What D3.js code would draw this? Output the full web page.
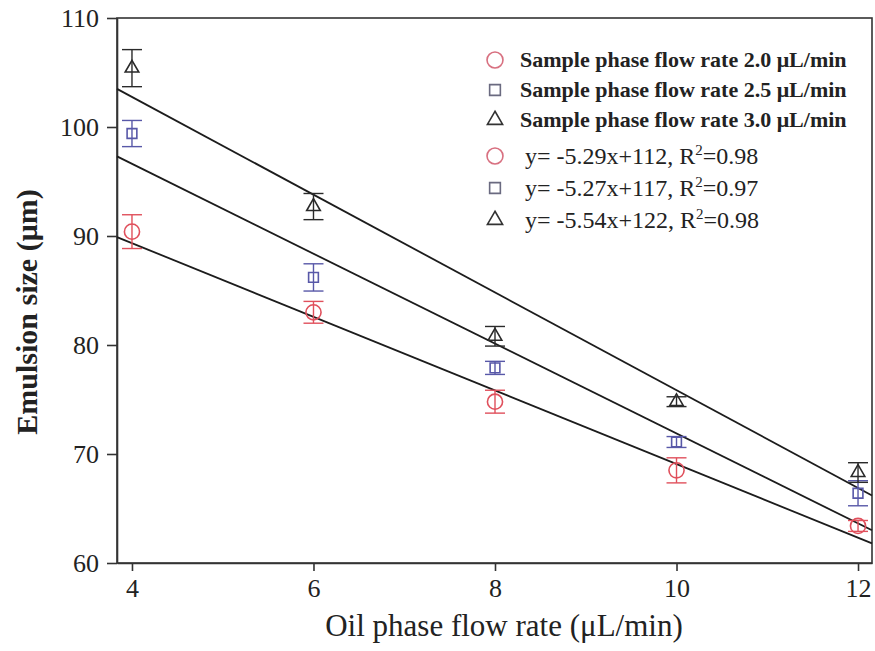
<!DOCTYPE html>
<html lang="en">
<head>
<meta charset="UTF-8">
<title>Emulsion size vs oil phase flow rate</title>
<script src="https://cdn.jsdelivr.net/npm/d3@7"></script>
<style>
  body { margin: 0; background: #fff; }
  svg text { font-family: "Liberation Serif", "Times New Roman", serif; fill: #222; }
  .axis path, .axis line { stroke: #333; stroke-width: 1.6; }
  .frame { fill: none; stroke: #333; stroke-width: 1.6; }
  .fit { fill: none; stroke: #1c1c1c; stroke-width: 1.8; }
  .bar { stroke-width: 1.4; }
</style>
</head>
<body>
<div id="chart"></div>
<script>

// data
var oilRates = [4, 6, 8, 10, 12];
var xTicks = [4, 6, 8, 10, 12];
var yTicks = [60, 70, 80, 90, 100, 110];

var size20 = [90.4, 83.0, 74.8, 68.5, 63.4];
var size25 = [99.4, 86.2, 77.9, 71.1, 66.4];
var size30 = [105.4, 92.7, 80.8, 74.8, 68.3];

var err20 = [1.55, 1.0, 1.05, 1.15, 0.5];
var err25 = [1.2, 1.25, 0.6, 0.5, 1.15];
var err30 = [1.7, 1.2, 0.9, 0.45, 0.9];

// fitted lines: value at left and right edge of the plot
var fitLeft = [89.9, 97.3, 103.5];
var fitRight = [61.8, 63.0, 66.2];

var legendNames = [
  "Sample phase flow rate 2.0 \u03bcL/min",
  "Sample phase flow rate 2.5 \u03bcL/min",
  "Sample phase flow rate 3.0 \u03bcL/min"
];
var equations = ["y= -5.29x+112, R", "y= -5.27x+117, R", "y= -5.54x+122, R"];
var r2 = ["=0.98", "=0.97", "=0.98"];

// look
var colors = ["#e0505c", "#5858a8", "#2a2a2a"];
var legendColors = ["#d87080", "#6a6a80", "#333"];
var symbols = [d3.symbolCircle, d3.symbolSquare, d3.symbolTriangle];
var symSizes = [180, 95, 80];

var width = 875, height = 651;
var plotL = 117, plotR = 872, plotT = 18, plotB = 563;

var svg = d3.select('#chart').append('svg')
    .attr('width', width)
    .attr('height', height);

var x = d3.scaleLinear().domain([3.835, 12.154]).range([plotL, plotR]);
var y = d3.scaleLinear().domain([60, 110]).range([plotB, plotT]);

// frame
svg.append('rect')
    .attr('class', 'frame')
    .attr('x', plotL).attr('y', plotT)
    .attr('width', plotR - plotL).attr('height', plotB - plotT);

svg.append('g')
    .attr('class', 'axis')
    .attr('transform', 'translate(0,' + plotB + ')')
    .call(d3.axisBottom(x).tickValues(xTicks).tickSize(8).tickPadding(8).tickSizeOuter(0));

svg.append('g')
    .attr('class', 'axis')
    .attr('transform', 'translate(' + plotL + ',0)')
    .call(d3.axisLeft(y).tickValues(yTicks).tickSize(10).tickPadding(8).tickSizeOuter(0));

svg.selectAll('.axis text')
    .style('font-size', '26px')
    .style('font-family', '"Liberation Serif", serif')
    .attr('fill', '#222');

// axis titles
svg.append('text')
    .attr('x', 504)
    .attr('y', 636)
    .attr('text-anchor', 'middle')
    .style('font-size', '31px')
    .text('Oil phase flow rate (\u03bcL/min)');

svg.append('text')
    .attr('transform', 'translate(37,' + 312 + ') rotate(-90)')
    .attr('text-anchor', 'middle')
    .style('font-size', '30px')
    .style('font-weight', 'bold')
    .text('Emulsion size (\u03bcm)');

// fitted lines
var fitData = fitLeft.map(function (v, i) {
  return [[x.domain()[0], v], [x.domain()[1], fitRight[i]]];
});

svg.selectAll('line.fit')
    .data(fitData)
    .enter()
    .append('line')
    .attr('class', 'fit')
    .attr('x1', function (d) { return x(d[0][0]); })
    .attr('y1', function (d) { return y(d[0][1]); })
    .attr('x2', function (d) { return x(d[1][0]); })
    .attr('y2', function (d) { return y(d[1][1]); });

// points with error bars
var series = [
  { vals: size20, errs: err20 },
  { vals: size25, errs: err25 },
  { vals: size30, errs: err30 }
];

var capW = 10;

series.forEach(function (s, k) {
  var pts = oilRates.map(function (r, i) {
    return { x: r, v: s.vals[i], e: s.errs[i] };
  });
  var g = svg.append('g')
      .attr('stroke', colors[k])
      .attr('fill', 'none');

  var pg = g.selectAll('g.pt')
      .data(pts)
      .enter()
      .append('g')
      .attr('class', 'pt');

  pg.append('line')
      .attr('class', 'bar')
      .attr('x1', function (d) { return x(d.x); })
      .attr('x2', function (d) { return x(d.x); })
      .attr('y1', function (d) { return y(d.v + d.e); })
      .attr('y2', function (d) { return y(d.v - d.e); });

  pg.append('line')
      .attr('class', 'bar')
      .attr('x1', function (d) { return x(d.x) - capW; })
      .attr('x2', function (d) { return x(d.x) + capW; })
      .attr('y1', function (d) { return y(d.v + d.e); })
      .attr('y2', function (d) { return y(d.v + d.e); });

  pg.append('line')
      .attr('class', 'bar')
      .attr('x1', function (d) { return x(d.x) - capW; })
      .attr('x2', function (d) { return x(d.x) + capW; })
      .attr('y1', function (d) { return y(d.v - d.e); })
      .attr('y2', function (d) { return y(d.v - d.e); });

  pg.append('path')
      .attr('d', d3.symbol().type(symbols[k]).size(symSizes[k]))
      .attr('transform', function (d) { return 'translate(' + x(d.x) + ',' + y(d.v) + ')'; })
      .attr('stroke-width', 1.6);
});

// legend
var legendX = 495;
var rowsTop = [60, 90, 120];
var rowsBot = [156, 188, 220];

legendNames.forEach(function (name, k) {
  svg.append('path')
      .attr('d', d3.symbol().type(symbols[k]).size(symSizes[k] + 20))
      .attr('transform', 'translate(' + legendX + ',' + rowsTop[k] + ')')
      .attr('fill', 'none')
      .attr('stroke', legendColors[k])
      .attr('stroke-width', 1.6);
  svg.append('text')
      .attr('x', legendX + 25)
      .attr('y', rowsTop[k] + 7)
      .style('font-size', '22px')
      .style('font-weight', 'bold')
      .text(name);

  svg.append('path')
      .attr('d', d3.symbol().type(symbols[k]).size(symSizes[k] + 20))
      .attr('transform', 'translate(' + legendX + ',' + rowsBot[k] + ')')
      .attr('fill', 'none')
      .attr('stroke', legendColors[k])
      .attr('stroke-width', 1.6);
  var t = svg.append('text')
      .attr('x', legendX + 30)
      .attr('y', rowsBot[k] + 8)
      .style('font-size', '24px')
      .text(equations[k]);
  t.append('tspan')
      .attr('dy', -9)
      .style('font-size', '15px')
      .text('2');
  t.append('tspan')
      .attr('dy', 9)
      .text(r2[k]);
});

</script>
</body>
</html>
